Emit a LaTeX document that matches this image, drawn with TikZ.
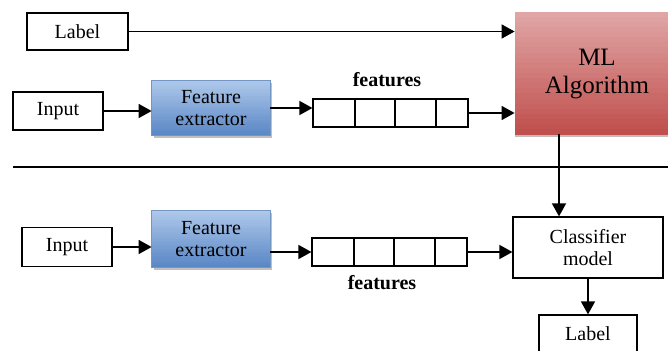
\documentclass[tikz,border=0pt]{standalone}
\usepackage{fontspec}
\setmainfont{Liberation Serif}
\usetikzlibrary{arrows.meta, positioning, calc}

\definecolor{feTop}{HTML}{AEC8EA}
\definecolor{feBot}{HTML}{5A87C6}
\definecolor{feLine}{HTML}{7396C2}
\definecolor{mlTop}{HTML}{E0A6A6}
\definecolor{mlBot}{HTML}{C0504D}

\tikzset{
  box/.style={draw=black, line width=0.6pt, fill=white, font=\fontsize{10}{11}\selectfont, align=center, inner sep=0pt},
  plate/.style={draw=none, inner sep=0pt},
  backshadow/.style={fill=black!25, draw=none, inner sep=0pt},
  fetext/.style={font=\fontsize{10}{11}\selectfont, align=center},
  mltext/.style={font=\fontsize{12.5}{14}\selectfont, align=center},
  cellrow/.style={draw=black, line width=0.6pt, inner sep=0pt, minimum height=14pt, minimum width=77.5pt},
  arr/.style={-{Triangle[length=6.5pt, width=7pt]}, line width=0.8pt},
  tag/.style={font=\bfseries\fontsize{10}{11}\selectfont}
}

% vertical colour ramp in strips over a node: node, top colour, bottom colour
\newcommand{\rampfill}[3]{%
  \foreach \i in {0,...,23} {
    \pgfmathsetmacro{\mix}{100*\i/23}
    \fill[#3!\mix!#2] ($(#1.north west)!\i/24!(#1.south west)$) rectangle
      ($(#1.north east)!{(\i+1.05)/24}!(#1.south east)$);
  }}

\begin{document}
\begin{tikzpicture}[x=0.5pt, y=-0.5pt]
\clip (0,0) rectangle (668,351);
\fill[white] (0,0) rectangle (668,351);

% training half
\node[box, minimum width=50.5pt, minimum height=18.5pt] (label1) at (77.5,31.5) {Label};
\node[box, minimum width=45pt, minimum height=19pt] (input1) at (58,111) {Input};
\node[backshadow, minimum width=59pt, minimum height=27.5pt] (fe1sh) at (212.5,110.5) {};
\node[plate, minimum width=59pt, minimum height=27.5pt] (fe1) at (211,108) {};
\rampfill{fe1}{feTop}{feBot}
\draw[feLine, line width=0.5pt] (fe1.north west) rectangle (fe1.south east);
\node[fetext] (fe1txt) at (fe1) {Feature\\extractor};
\node[cellrow] (feat1) at (390.5,113) {};
\foreach \x in {355,395,436}
  \draw[line width=0.6pt] (\x,99) -- (\x,127);
\node[tag] (ftag1) at (387,80) {features};
\node[backshadow, minimum width=82.5pt, minimum height=61pt] (mlsh) at (597.5,76) {};
\node[plate, minimum width=82.5pt, minimum height=61pt] (ml) at (597.5,73) {};
\rampfill{ml}{mlTop}{mlBot}
\node[mltext] (mltxt) at (597,74) {ML\\Algorithm};

\draw[arr] (label1.east) -- (label1.east -| ml.west);
\draw[arr] (input1.east) -- (input1.east -| fe1.west);
\draw[arr] (fe1.east) -- (fe1.east -| feat1.west);
\draw[arr] (feat1.east) -- (feat1.east -| ml.west);

% separator between training and prediction
\draw[line width=0.6pt] (13,167) -- (668,167);

% prediction half
\node[box, minimum width=45pt, minimum height=19.5pt] (input2) at (67,247) {Input};
\node[backshadow, minimum width=59pt, minimum height=28.5pt] (fe2sh) at (212.5,241.5) {};
\node[plate, minimum width=59pt, minimum height=28.5pt] (fe2) at (211,239) {};
\rampfill{fe2}{feTop}{feBot}
\draw[feLine, line width=0.5pt] (fe2.north west) rectangle (fe2.south east);
\node[fetext] (fe2txt) at (fe2) {Feature\\extractor};
\node[cellrow] (feat2) at (389.5,252) {};
\foreach \x in {354,394,435}
  \draw[line width=0.6pt] (\x,238) -- (\x,266);
\node[tag] (ftag2) at (382,283) {features};
\node[box, minimum width=75pt, minimum height=30.5pt] (clf) at (588,247.5) {Classifier\\model};
\node[box, minimum width=49pt, minimum height=25pt, text depth=6pt] (label2) at (588,340) {Label};

\coordinate (drop) at (559,150);
\draw[arr] (drop |- ml.south) -- (drop |- clf.north);
\draw[arr] (input2.east) -- (input2.east -| fe2.west);
\draw[arr] (fe2.east |- feat2) -- (feat2.west);
\draw[arr] (feat2.east) -- (feat2.east -| clf.west);
\draw[arr] (clf.south) -- (label2.north);
\end{tikzpicture}
\end{document}
